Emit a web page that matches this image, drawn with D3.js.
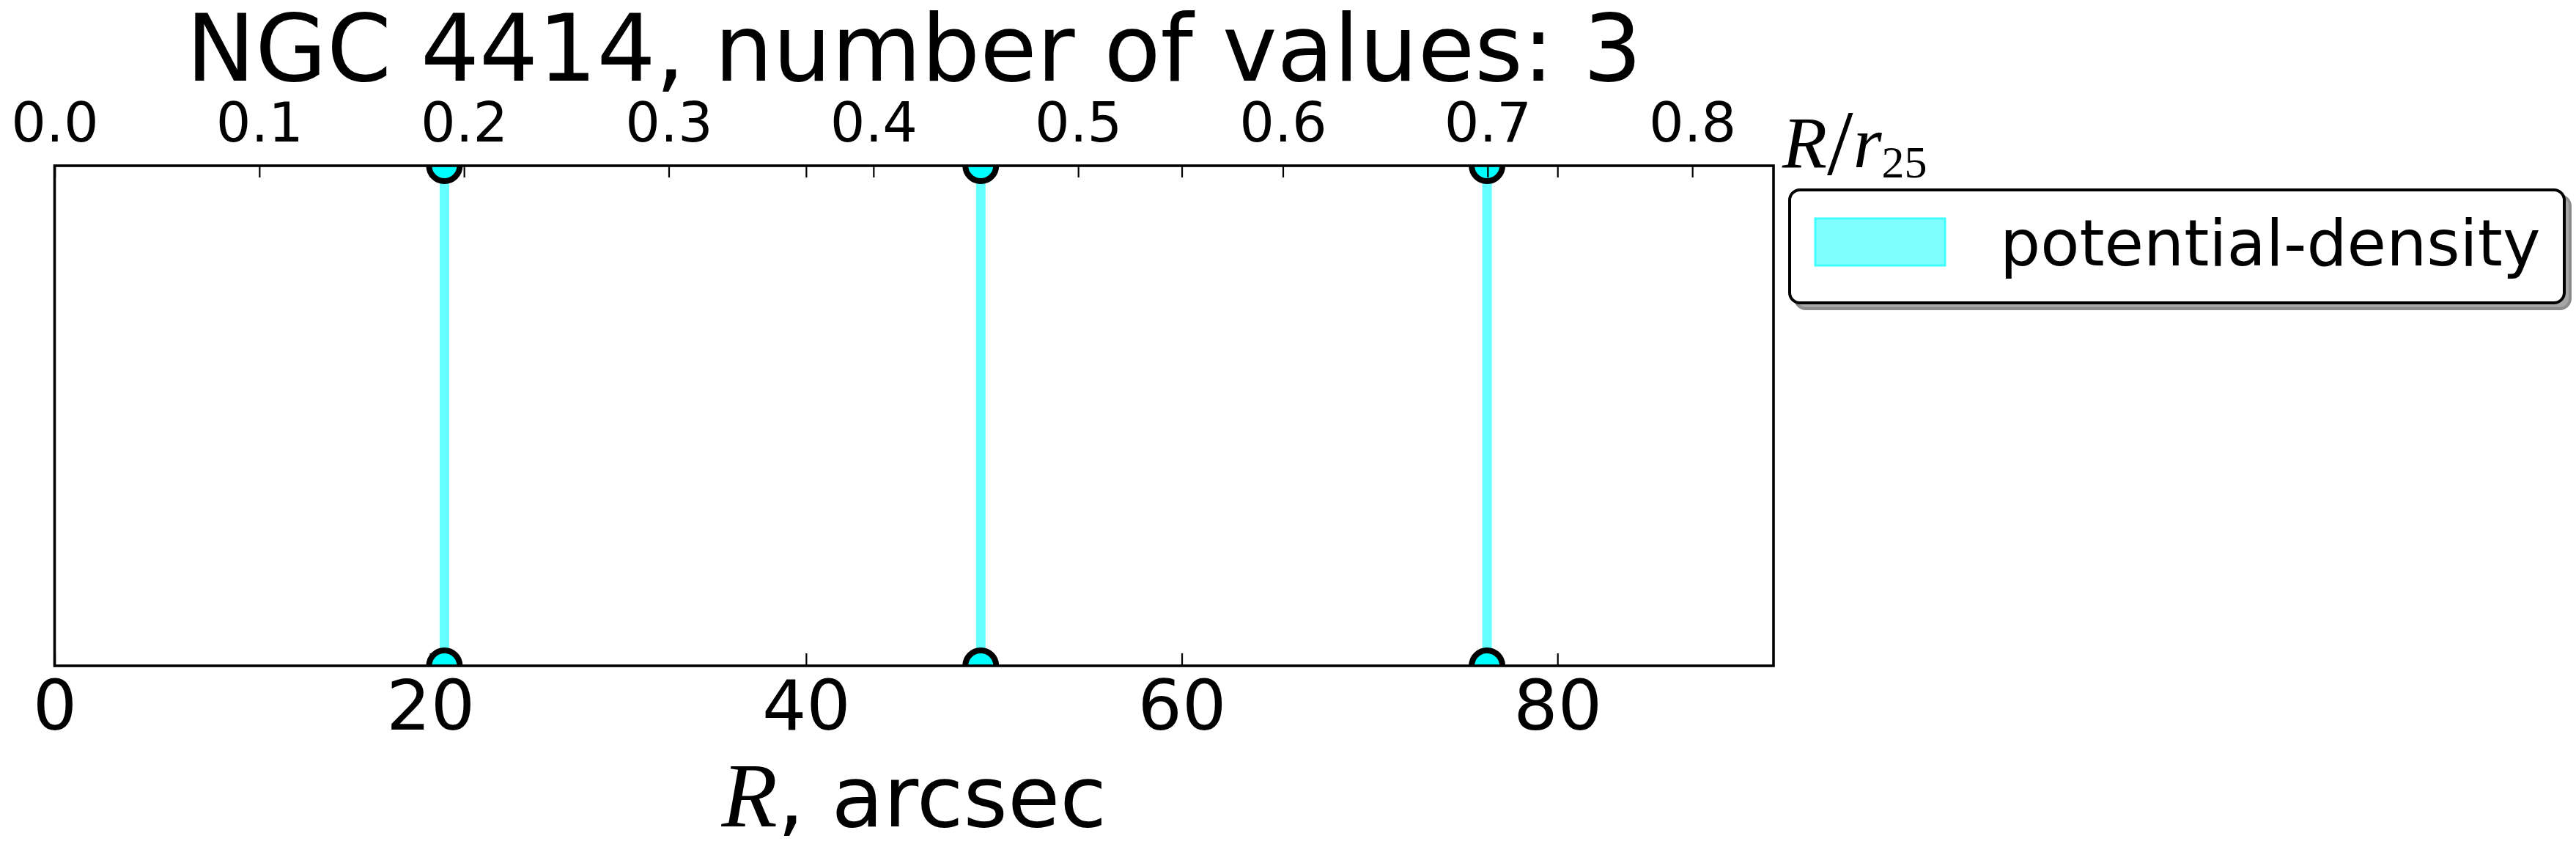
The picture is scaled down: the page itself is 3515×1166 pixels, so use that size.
<!DOCTYPE html>
<html>
<head>
<meta charset="utf-8">
<script src="https://cdn.jsdelivr.net/npm/d3@7"></script>
<style>
  body { margin: 0; background: #fff; }
  text { font-family: "DejaVu Sans", sans-serif; }
</style>
</head>
<body>
<div id="chart"></div>
<script>
// data
var galaxy = "NGC 4414";
var seriesName = "potential-density";
var radii = [20.75, 49.3, 76.25];          // R, arcsec
var yEnds = [0, 1];                        // lines run over the whole y range
var arcsecTicks = [0, 20, 40, 60, 80];
var relTicks = [0, 0.1, 0.2, 0.3, 0.4, 0.5, 0.6, 0.7, 0.8];
var xMax = 91.5;
var r25 = 108.97;                          // arcsec

var W = 3515, H = 1166;
var axL = 74.5, axR = 2420, axT = 226, axB = 908;

var svg = d3.select("#chart").append("svg")
  .attr("width", W)
  .attr("height", H);

svg.append("rect").attr("width", W).attr("height", H).attr("fill", "#fff");

var x = d3.scaleLinear().domain([0, xMax]).range([axL, axR]);
var x2 = d3.scaleLinear().domain([0, xMax / r25]).range([axL, axR]);
var y = d3.scaleLinear().domain([0, 1]).range([axB, axT]);

svg.append("defs").append("clipPath").attr("id", "clip")
  .append("rect")
  .attr("x", axL).attr("y", axT)
  .attr("width", axR - axL).attr("height", axB - axT);

var plot = svg.append("g").attr("clip-path", "url(#clip)");

// vertical lines
plot.selectAll("line.r")
  .data(radii)
  .enter().append("line")
  .attr("class", "r")
  .attr("x1", d => x(d)).attr("x2", d => x(d))
  .attr("y1", y(yEnds[0])).attr("y2", y(yEnds[1]))
  .style("stroke", "#00ffff")
  .style("stroke-opacity", 0.6)
  .style("stroke-width", 13);

// end markers
var pts = [];
radii.forEach(function(r){ yEnds.forEach(function(v){ pts.push([r, v]); }); });
plot.selectAll("circle")
  .data(pts)
  .enter().append("circle")
  .attr("cx", d => x(d[0]))
  .attr("cy", d => y(d[1]))
  .attr("r", 21)
  .style("fill", "#00ffff")
  .style("stroke", "#000")
  .style("stroke-width", 8);

// axes
var bottomAxis = d3.axisBottom(x)
  .tickValues(arcsecTicks)
  .tickSizeInner(-17).tickSizeOuter(0).tickPadding(20)
  .tickFormat(d3.format("d"));
var gb = svg.append("g").attr("transform", "translate(0," + axB + ")").call(bottomAxis);
gb.selectAll("text").style("font-size", "95px").style("font-family", "DejaVu Sans");

var topArcsec = d3.axisTop(x)
  .tickValues(arcsecTicks)
  .tickSizeInner(-16).tickSizeOuter(0)
  .tickFormat("");
svg.append("g").attr("transform", "translate(0," + axT + ")").call(topArcsec);

var topAxis = d3.axisTop(x2)
  .tickValues(relTicks)
  .tickSizeInner(-16).tickSizeOuter(0).tickPadding(33)
  .tickFormat(d3.format(".1f"));
var gt = svg.append("g").attr("transform", "translate(0," + axT + ")").call(topAxis);
gt.selectAll("text").style("font-size", "75px").style("font-family", "DejaVu Sans");

svg.selectAll(".domain").remove();
svg.selectAll(".tick line").style("stroke", "#000").style("stroke-width", 2.2);

// frame
svg.append("rect")
  .attr("x", axL).attr("y", axT)
  .attr("width", axR - axL).attr("height", axB - axT)
  .style("fill", "none").style("stroke", "#000").style("stroke-width", 3.6);

// title
svg.append("text")
  .attr("x", (axL + axR) / 2).attr("y", 110)
  .attr("text-anchor", "middle")
  .style("font-size", "126px")
  .text(galaxy + ", number of values: " + radii.length);

// x label
var xl = svg.append("text")
  .attr("x", (axL + axR) / 2).attr("y", 1127)
  .attr("text-anchor", "middle")
  .style("font-size", "116px");
xl.append("tspan").style("font-family", "Liberation Serif").style("font-style", "italic").style("font-size", "125px").text("R");
xl.append("tspan").text(", arcsec");

// top label R/r25
var tl = svg.append("text")
  .attr("x", 2432).attr("y", 228)
  .style("font-family", "Liberation Serif");
tl.append("tspan").style("font-style", "italic").style("font-size", "100px").text("R");
tl.append("tspan").style("font-size", "128px").attr("dy", 10).text("/");
tl.append("tspan").style("font-style", "italic").style("font-size", "100px").attr("dy", -10).text("r");
tl.append("tspan").style("font-size", "62px").attr("dy", 14).text("25");

// legend
var lg = svg.append("g");
lg.append("rect")
  .attr("x", 2450).attr("y", 267).attr("width", 1057).attr("height", 154).attr("rx", 14)
  .style("fill", "#a6a6a6").style("stroke", "#8c8c8c").style("stroke-width", 4);
lg.append("rect")
  .attr("x", 2442).attr("y", 259).attr("width", 1057).attr("height", 154).attr("rx", 14)
  .style("fill", "#fff").style("stroke", "#000").style("stroke-width", 4);
lg.append("rect")
  .attr("x", 2477).attr("y", 298).attr("width", 177).attr("height", 64)
  .style("fill", "#80ffff").style("stroke", "#40ffff").style("stroke-width", 3);
lg.append("text")
  .attr("x", 2729).attr("y", 362)
  .style("font-size", "87px")
  .text(seriesName);
</script>
</body>
</html>
